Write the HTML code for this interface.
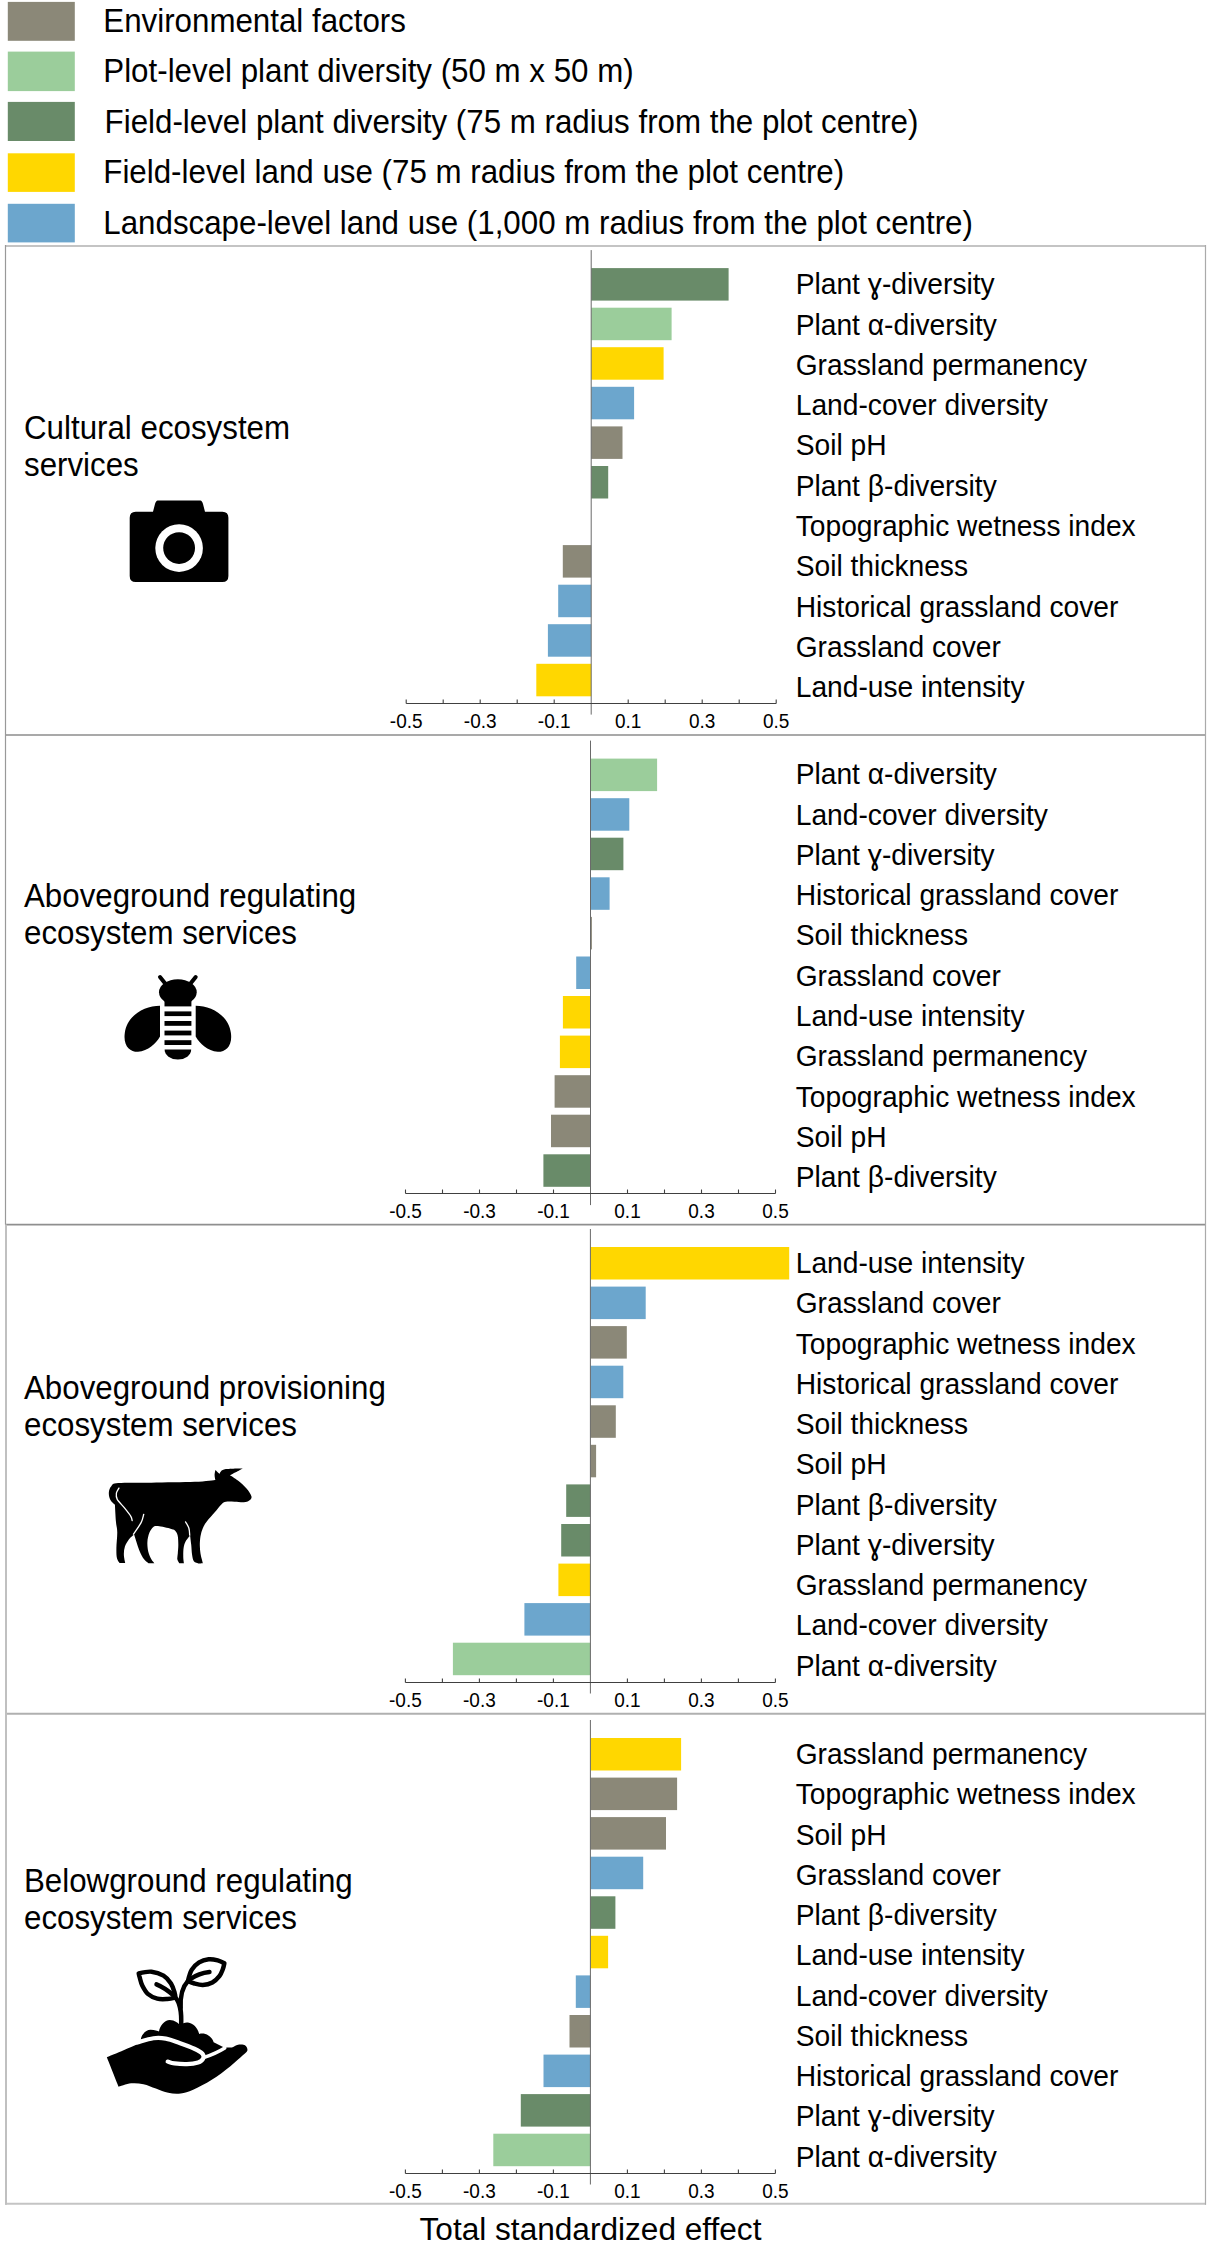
<!DOCTYPE html>
<html><head><meta charset="utf-8"><style>
html,body{margin:0;padding:0;background:#fff;}
svg{display:block;}
text{font-family:"Liberation Sans",sans-serif;fill:#000;}
</style></head><body>
<svg width="1208" height="2244" viewBox="0 0 1208 2244">
<rect x="0" y="0" width="1208" height="2244" fill="#fff"/>
<g>
<rect x="7.8" y="1.9" width="67" height="38.9" fill="#8B8878"/>
<text transform="translate(103.3,31.8) scale(1,1.045)" font-size="31.3">Environmental factors</text>
<rect x="7.8" y="51.6" width="67" height="39.5" fill="#9BCD9B"/>
<text transform="translate(103.3,82.2) scale(1,1.045)" font-size="31.3">Plot-level plant diversity (50 m x 50 m)</text>
<rect x="7.8" y="101.9" width="67" height="39.1" fill="#698B69"/>
<text transform="translate(104.6,132.5) scale(1,1.045)" font-size="31.3">Field-level plant diversity (75 m radius from the plot centre)</text>
<rect x="7.8" y="153.3" width="67" height="38.6" fill="#FFD700"/>
<text transform="translate(103.3,183.0) scale(1,1.045)" font-size="31.3">Field-level land use (75 m radius from the plot centre)</text>
<rect x="7.8" y="203.8" width="67" height="38.6" fill="#6CA6CD"/>
<text transform="translate(103.3,233.8) scale(1,1.045)" font-size="31.3">Landscape-level land use (1,000 m radius from the plot centre)</text>
</g>
<g fill="none">
<line x1="5" y1="246" x2="1206" y2="246" stroke="#c4c4c4" stroke-width="2"/>
<line x1="5" y1="735" x2="1206" y2="735" stroke="#8c8c8c" stroke-width="1.6"/>
<line x1="5" y1="1224.6" x2="1206" y2="1224.6" stroke="#8f8f8f" stroke-width="1.6"/>
<line x1="5" y1="1713.8" x2="1206" y2="1713.8" stroke="#b0b0b0" stroke-width="2"/>
<line x1="5" y1="2203.8" x2="1206" y2="2203.8" stroke="#c4c4c4" stroke-width="2"/>
<line x1="5.5" y1="245" x2="5.5" y2="1224.6" stroke="#999" stroke-width="1.2"/>
<line x1="6" y1="1224.6" x2="6" y2="2204.8" stroke="#c0c0c0" stroke-width="2"/>
<line x1="1205.5" y1="245" x2="1205.5" y2="2204.8" stroke="#aaa" stroke-width="1.2"/>
</g>
<g>
<rect x="591.2" y="268.1" width="137.4" height="32.5" fill="#698B69"/>
<text transform="translate(795.7,294.4) scale(1,1.045)" font-size="28.2">Plant ɣ-diversity</text>
<rect x="591.2" y="307.7" width="80.4" height="32.5" fill="#9BCD9B"/>
<text transform="translate(795.7,334.7) scale(1,1.045)" font-size="28.2">Plant α-diversity</text>
<rect x="591.2" y="347.2" width="72.4" height="32.5" fill="#FFD700"/>
<text transform="translate(795.7,374.9) scale(1,1.045)" font-size="28.2">Grassland permanency</text>
<rect x="591.2" y="386.8" width="42.9" height="32.5" fill="#6CA6CD"/>
<text transform="translate(795.7,415.2) scale(1,1.045)" font-size="28.2">Land-cover diversity</text>
<rect x="591.2" y="426.4" width="31.3" height="32.5" fill="#8B8878"/>
<text transform="translate(795.7,455.4) scale(1,1.045)" font-size="28.2">Soil pH</text>
<rect x="591.2" y="466.0" width="17.0" height="32.5" fill="#698B69"/>
<text transform="translate(795.7,495.7) scale(1,1.045)" font-size="28.2">Plant β-diversity</text>
<text transform="translate(795.7,536.0) scale(1,1.045)" font-size="28.2">Topographic wetness index</text>
<rect x="562.8" y="545.1" width="28.4" height="32.5" fill="#8B8878"/>
<text transform="translate(795.7,576.2) scale(1,1.045)" font-size="28.2">Soil thickness</text>
<rect x="558.2" y="584.7" width="33.0" height="32.5" fill="#6CA6CD"/>
<text transform="translate(795.7,616.5) scale(1,1.045)" font-size="28.2">Historical grassland cover</text>
<rect x="547.9" y="624.2" width="43.3" height="32.5" fill="#6CA6CD"/>
<text transform="translate(795.7,656.7) scale(1,1.045)" font-size="28.2">Grassland cover</text>
<rect x="536.3" y="663.8" width="54.9" height="32.5" fill="#FFD700"/>
<text transform="translate(795.7,697.0) scale(1,1.045)" font-size="28.2">Land-use intensity</text>
<line x1="591.2" y1="250.10000000000002" x2="591.2" y2="714.6" stroke="#6a6a6a" stroke-width="1"/>
<line x1="406.20000000000005" y1="703.5" x2="776.2" y2="703.5" stroke="#404040" stroke-width="1"/>
<line x1="406.20000000000005" y1="699.5" x2="406.20000000000005" y2="703.5" stroke="#404040" stroke-width="1.1"/>
<line x1="443.20000000000005" y1="699.5" x2="443.20000000000005" y2="703.5" stroke="#404040" stroke-width="1.1"/>
<line x1="480.20000000000005" y1="699.5" x2="480.20000000000005" y2="703.5" stroke="#404040" stroke-width="1.1"/>
<line x1="517.2" y1="699.5" x2="517.2" y2="703.5" stroke="#404040" stroke-width="1.1"/>
<line x1="554.2" y1="699.5" x2="554.2" y2="703.5" stroke="#404040" stroke-width="1.1"/>
<line x1="628.2" y1="699.5" x2="628.2" y2="703.5" stroke="#404040" stroke-width="1.1"/>
<line x1="665.2" y1="699.5" x2="665.2" y2="703.5" stroke="#404040" stroke-width="1.1"/>
<line x1="702.2" y1="699.5" x2="702.2" y2="703.5" stroke="#404040" stroke-width="1.1"/>
<line x1="739.2" y1="699.5" x2="739.2" y2="703.5" stroke="#404040" stroke-width="1.1"/>
<line x1="776.2" y1="699.5" x2="776.2" y2="703.5" stroke="#404040" stroke-width="1.1"/>
<text transform="translate(406.2,727.6) scale(1,1.02)" font-size="19" text-anchor="middle">-0.5</text>
<text transform="translate(480.2,727.6) scale(1,1.02)" font-size="19" text-anchor="middle">-0.3</text>
<text transform="translate(554.2,727.6) scale(1,1.02)" font-size="19" text-anchor="middle">-0.1</text>
<text transform="translate(628.2,727.6) scale(1,1.02)" font-size="19" text-anchor="middle">0.1</text>
<text transform="translate(702.2,727.6) scale(1,1.02)" font-size="19" text-anchor="middle">0.3</text>
<text transform="translate(776.2,727.6) scale(1,1.02)" font-size="19" text-anchor="middle">0.5</text>
<text transform="translate(24.0,438.5) scale(1,1.045)" font-size="31.3">Cultural ecosystem</text>
<text transform="translate(24.0,475.8) scale(1,1.045)" font-size="31.3">services</text>
<g fill="#000"><path d="M157.7,500.4 L200.4,500.4 Q202,500.4 203,504 L205,511.8 L222.4,511.8 Q228.4,511.8 228.4,517.8 L228.4,575.9 Q228.4,581.9 222.4,581.9 L135.7,581.9 Q129.7,581.9 129.7,575.9 L129.7,517.8 Q129.7,511.8 135.7,511.8 L153,511.8 L155,504 Q156,500.4 157.7,500.4 Z"/>
<circle cx="179.1" cy="548.1" r="23.8" fill="#fff"/><circle cx="179.1" cy="548.1" r="15.9" fill="#000"/></g>
</g>
<g>
<rect x="590.5" y="758.6" width="66.6" height="32.5" fill="#9BCD9B"/>
<text transform="translate(795.7,784.4) scale(1,1.045)" font-size="28.2">Plant α-diversity</text>
<rect x="590.5" y="798.2" width="38.8" height="32.5" fill="#6CA6CD"/>
<text transform="translate(795.7,824.7) scale(1,1.045)" font-size="28.2">Land-cover diversity</text>
<rect x="590.5" y="837.7" width="32.9" height="32.5" fill="#698B69"/>
<text transform="translate(795.7,864.9) scale(1,1.045)" font-size="28.2">Plant ɣ-diversity</text>
<rect x="590.5" y="877.3" width="19.1" height="32.5" fill="#6CA6CD"/>
<text transform="translate(795.7,905.2) scale(1,1.045)" font-size="28.2">Historical grassland cover</text>
<rect x="590.5" y="916.9" width="1.4" height="32.5" fill="#8B8878"/>
<text transform="translate(795.7,945.4) scale(1,1.045)" font-size="28.2">Soil thickness</text>
<rect x="576.2" y="956.5" width="14.3" height="32.5" fill="#6CA6CD"/>
<text transform="translate(795.7,985.7) scale(1,1.045)" font-size="28.2">Grassland cover</text>
<rect x="562.9" y="996.0" width="27.6" height="32.5" fill="#FFD700"/>
<text transform="translate(795.7,1026.0) scale(1,1.045)" font-size="28.2">Land-use intensity</text>
<rect x="559.9" y="1035.6" width="30.6" height="32.5" fill="#FFD700"/>
<text transform="translate(795.7,1066.2) scale(1,1.045)" font-size="28.2">Grassland permanency</text>
<rect x="554.6" y="1075.2" width="35.9" height="32.5" fill="#8B8878"/>
<text transform="translate(795.7,1106.5) scale(1,1.045)" font-size="28.2">Topographic wetness index</text>
<rect x="551.0" y="1114.7" width="39.5" height="32.5" fill="#8B8878"/>
<text transform="translate(795.7,1146.7) scale(1,1.045)" font-size="28.2">Soil pH</text>
<rect x="543.4" y="1154.3" width="47.1" height="32.5" fill="#698B69"/>
<text transform="translate(795.7,1187.0) scale(1,1.045)" font-size="28.2">Plant β-diversity</text>
<line x1="590.5" y1="740.6" x2="590.5" y2="1205.1" stroke="#6a6a6a" stroke-width="1"/>
<line x1="405.5" y1="1193.5" x2="775.5" y2="1193.5" stroke="#404040" stroke-width="1"/>
<line x1="405.5" y1="1189.5" x2="405.5" y2="1193.5" stroke="#404040" stroke-width="1.1"/>
<line x1="442.5" y1="1189.5" x2="442.5" y2="1193.5" stroke="#404040" stroke-width="1.1"/>
<line x1="479.5" y1="1189.5" x2="479.5" y2="1193.5" stroke="#404040" stroke-width="1.1"/>
<line x1="516.5" y1="1189.5" x2="516.5" y2="1193.5" stroke="#404040" stroke-width="1.1"/>
<line x1="553.5" y1="1189.5" x2="553.5" y2="1193.5" stroke="#404040" stroke-width="1.1"/>
<line x1="627.5" y1="1189.5" x2="627.5" y2="1193.5" stroke="#404040" stroke-width="1.1"/>
<line x1="664.5" y1="1189.5" x2="664.5" y2="1193.5" stroke="#404040" stroke-width="1.1"/>
<line x1="701.5" y1="1189.5" x2="701.5" y2="1193.5" stroke="#404040" stroke-width="1.1"/>
<line x1="738.5" y1="1189.5" x2="738.5" y2="1193.5" stroke="#404040" stroke-width="1.1"/>
<line x1="775.5" y1="1189.5" x2="775.5" y2="1193.5" stroke="#404040" stroke-width="1.1"/>
<text transform="translate(405.5,1218.1) scale(1,1.02)" font-size="19" text-anchor="middle">-0.5</text>
<text transform="translate(479.5,1218.1) scale(1,1.02)" font-size="19" text-anchor="middle">-0.3</text>
<text transform="translate(553.5,1218.1) scale(1,1.02)" font-size="19" text-anchor="middle">-0.1</text>
<text transform="translate(627.5,1218.1) scale(1,1.02)" font-size="19" text-anchor="middle">0.1</text>
<text transform="translate(701.5,1218.1) scale(1,1.02)" font-size="19" text-anchor="middle">0.3</text>
<text transform="translate(775.5,1218.1) scale(1,1.02)" font-size="19" text-anchor="middle">0.5</text>
<text transform="translate(24.0,906.9) scale(1,1.045)" font-size="31.3">Aboveground regulating</text>
<text transform="translate(24.0,944.0) scale(1,1.045)" font-size="31.3">ecosystem services</text>
<g fill="#000">
<line x1="160" y1="977" x2="165.2" y2="983.6" stroke="#000" stroke-width="4" stroke-linecap="round"/>
<line x1="195.7" y1="977" x2="190.5" y2="983.6" stroke="#000" stroke-width="4" stroke-linecap="round"/>
<ellipse cx="177.85" cy="992.3" rx="18.85" ry="13"/>
<rect x="164.5" y="995" width="26.9" height="11.4"/>
<rect x="164.5" y="1011.4" width="26.9" height="4.7"/>
<rect x="164.5" y="1021" width="26.9" height="4.8"/>
<rect x="164.5" y="1030.6" width="26.9" height="4.8"/>
<rect x="164.5" y="1040.2" width="26.9" height="4.8"/>
<path d="M164.6,1049.6 H191.2 A13.3,10 0 0 1 164.6,1049.6 Z"/>
<path d="M160,1005.7 C145,1005.7 127,1015 124.8,1033 C123,1046 130,1052 138,1051.8 C148,1051 156,1043.5 160,1036.5 Z"/>
<path d="M195.7,1005.7 C210.7,1005.7 228.7,1015 230.9,1033 C232.7,1046 225.7,1052 217.7,1051.8 C207.7,1051 199.7,1043.5 195.7,1036.5 Z"/>
</g>
</g>
<g>
<rect x="590.4" y="1247.0" width="198.8" height="32.5" fill="#FFD700"/>
<text transform="translate(795.7,1273.1) scale(1,1.045)" font-size="28.2">Land-use intensity</text>
<rect x="590.4" y="1286.6" width="55.3" height="32.5" fill="#6CA6CD"/>
<text transform="translate(795.7,1313.4) scale(1,1.045)" font-size="28.2">Grassland cover</text>
<rect x="590.4" y="1326.1" width="36.4" height="32.5" fill="#8B8878"/>
<text transform="translate(795.7,1353.6) scale(1,1.045)" font-size="28.2">Topographic wetness index</text>
<rect x="590.4" y="1365.7" width="32.9" height="32.5" fill="#6CA6CD"/>
<text transform="translate(795.7,1393.9) scale(1,1.045)" font-size="28.2">Historical grassland cover</text>
<rect x="590.4" y="1405.3" width="25.4" height="32.5" fill="#8B8878"/>
<text transform="translate(795.7,1434.1) scale(1,1.045)" font-size="28.2">Soil thickness</text>
<rect x="590.4" y="1444.8" width="5.7" height="32.5" fill="#8B8878"/>
<text transform="translate(795.7,1474.4) scale(1,1.045)" font-size="28.2">Soil pH</text>
<rect x="566.2" y="1484.4" width="24.2" height="32.5" fill="#698B69"/>
<text transform="translate(795.7,1514.7) scale(1,1.045)" font-size="28.2">Plant β-diversity</text>
<rect x="561.2" y="1524.0" width="29.2" height="32.5" fill="#698B69"/>
<text transform="translate(795.7,1554.9) scale(1,1.045)" font-size="28.2">Plant ɣ-diversity</text>
<rect x="558.4" y="1563.6" width="32.0" height="32.5" fill="#FFD700"/>
<text transform="translate(795.7,1595.2) scale(1,1.045)" font-size="28.2">Grassland permanency</text>
<rect x="524.4" y="1603.1" width="66.0" height="32.5" fill="#6CA6CD"/>
<text transform="translate(795.7,1635.4) scale(1,1.045)" font-size="28.2">Land-cover diversity</text>
<rect x="452.9" y="1642.7" width="137.5" height="32.5" fill="#9BCD9B"/>
<text transform="translate(795.7,1675.7) scale(1,1.045)" font-size="28.2">Plant α-diversity</text>
<line x1="590.4" y1="1229.0" x2="590.4" y2="1693.5" stroke="#6a6a6a" stroke-width="1"/>
<line x1="405.4" y1="1682.5" x2="775.4" y2="1682.5" stroke="#404040" stroke-width="1"/>
<line x1="405.4" y1="1678.5" x2="405.4" y2="1682.5" stroke="#404040" stroke-width="1.1"/>
<line x1="442.4" y1="1678.5" x2="442.4" y2="1682.5" stroke="#404040" stroke-width="1.1"/>
<line x1="479.4" y1="1678.5" x2="479.4" y2="1682.5" stroke="#404040" stroke-width="1.1"/>
<line x1="516.4" y1="1678.5" x2="516.4" y2="1682.5" stroke="#404040" stroke-width="1.1"/>
<line x1="553.4" y1="1678.5" x2="553.4" y2="1682.5" stroke="#404040" stroke-width="1.1"/>
<line x1="627.4" y1="1678.5" x2="627.4" y2="1682.5" stroke="#404040" stroke-width="1.1"/>
<line x1="664.4" y1="1678.5" x2="664.4" y2="1682.5" stroke="#404040" stroke-width="1.1"/>
<line x1="701.4" y1="1678.5" x2="701.4" y2="1682.5" stroke="#404040" stroke-width="1.1"/>
<line x1="738.4" y1="1678.5" x2="738.4" y2="1682.5" stroke="#404040" stroke-width="1.1"/>
<line x1="775.4" y1="1678.5" x2="775.4" y2="1682.5" stroke="#404040" stroke-width="1.1"/>
<text transform="translate(405.4,1706.5) scale(1,1.02)" font-size="19" text-anchor="middle">-0.5</text>
<text transform="translate(479.4,1706.5) scale(1,1.02)" font-size="19" text-anchor="middle">-0.3</text>
<text transform="translate(553.4,1706.5) scale(1,1.02)" font-size="19" text-anchor="middle">-0.1</text>
<text transform="translate(627.4,1706.5) scale(1,1.02)" font-size="19" text-anchor="middle">0.1</text>
<text transform="translate(701.4,1706.5) scale(1,1.02)" font-size="19" text-anchor="middle">0.3</text>
<text transform="translate(775.4,1706.5) scale(1,1.02)" font-size="19" text-anchor="middle">0.5</text>
<text transform="translate(24.0,1398.5) scale(1,1.045)" font-size="31.3">Aboveground provisioning</text>
<text transform="translate(24.0,1435.5) scale(1,1.045)" font-size="31.3">ecosystem services</text>
<g transform="translate(105,1462) scale(0.066225)">
<path d="M200.0,318.0 C300.8,309.2 507.2,315.0 700.0,312.0 C892.8,309.0 1195.8,306.7 1357.0,300.0 C1518.2,293.3 1667.0,272.0 1667.0,272.0 C1667.0,272.0 1655.0,225.0 1655.0,200.0 C1655.0,175.0 1667.0,122.0 1667.0,122.0 C1667.0,122.0 1729.0,182.0 1729.0,182.0 C1729.0,182.0 1738.2,126.0 1797.0,112.0 C1855.8,98.0 2082.0,98.0 2082.0,98.0 C2082.0,98.0 1887.0,200.0 1887.0,200.0 C1887.0,200.0 1965.3,246.7 2007.0,280.0 C2048.7,313.3 2102.8,360.0 2137.0,400.0 C2171.2,440.0 2205.3,490.0 2212.0,520.0 C2218.7,550.0 2196.2,565.3 2177.0,580.0 C2157.8,594.7 2133.7,604.7 2097.0,608.0 C2060.3,611.3 2002.0,601.3 1957.0,600.0 C1912.0,598.7 1860.3,593.3 1827.0,600.0 C1793.7,606.7 1785.3,613.3 1757.0,640.0 C1728.7,666.7 1693.7,716.7 1657.0,760.0 C1620.3,803.3 1567.0,860.0 1537.0,900.0 C1507.0,940.0 1492.8,963.3 1477.0,1000.0 C1461.2,1036.7 1449.5,1076.7 1442.0,1120.0 C1434.5,1163.3 1432.0,1216.7 1432.0,1260.0 C1432.0,1303.3 1437.0,1345.0 1442.0,1380.0 C1447.0,1415.0 1456.2,1445.3 1462.0,1470.0 C1467.8,1494.7 1477.0,1528.0 1477.0,1528.0 C1477.0,1528.0 1407.0,1532.0 1407.0,1532.0 C1407.0,1532.0 1357.3,1522.0 1342.0,1500.0 C1326.7,1478.0 1321.7,1441.7 1315.0,1400.0 C1308.3,1358.3 1307.0,1298.3 1302.0,1250.0 C1297.0,1201.7 1285.0,1110.0 1285.0,1110.0 C1285.0,1110.0 1233.3,1168.3 1217.0,1200.0 C1200.7,1231.7 1192.8,1260.0 1187.0,1300.0 C1181.2,1340.0 1181.2,1402.0 1182.0,1440.0 C1182.8,1478.0 1192.0,1528.0 1192.0,1528.0 C1192.0,1528.0 1122.0,1528.0 1122.0,1528.0 C1122.0,1528.0 1095.8,1494.7 1092.0,1470.0 C1088.2,1445.3 1096.5,1416.7 1099.0,1380.0 C1101.5,1343.3 1107.3,1295.0 1107.0,1250.0 C1106.7,1205.0 1105.3,1145.8 1097.0,1110.0 C1088.7,1074.2 1073.2,1051.7 1057.0,1035.0 C1040.8,1018.3 1042.8,1021.2 1000.0,1010.0 C957.2,998.8 845.0,973.0 800.0,968.0 C755.0,963.0 751.7,963.0 730.0,980.0 C708.3,997.0 685.0,1031.7 670.0,1070.0 C655.0,1108.3 642.5,1161.7 640.0,1210.0 C637.5,1258.3 645.0,1316.7 655.0,1360.0 C665.0,1403.3 685.0,1442.0 700.0,1470.0 C715.0,1498.0 745.0,1528.0 745.0,1528.0 C745.0,1528.0 660.0,1530.0 660.0,1530.0 C660.0,1530.0 613.3,1501.7 590.0,1470.0 C566.7,1438.3 545.0,1402.5 520.0,1340.0 C495.0,1277.5 440.0,1095.0 440.0,1095.0 C440.0,1095.0 383.3,1139.2 360.0,1170.0 C336.7,1200.8 312.5,1241.7 300.0,1280.0 C287.5,1318.3 284.2,1359.2 285.0,1400.0 C285.8,1440.8 305.0,1525.0 305.0,1525.0 C305.0,1525.0 220.0,1525.0 220.0,1525.0 C220.0,1525.0 188.0,1487.5 180.0,1450.0 C172.0,1412.5 171.2,1365.0 172.0,1300.0 C172.8,1235.0 186.2,1126.7 185.0,1060.0 C183.8,993.3 170.8,969.2 165.0,900.0 C159.2,830.8 150.0,645.0 150.0,645.0 C150.0,645.0 95.3,600.8 80.0,570.0 C64.7,539.2 55.5,494.2 58.0,460.0 C60.5,425.8 71.3,388.7 95.0,365.0 C118.7,341.3 99.2,326.8 200.0,318.0 Z" fill="#000"/>
<g fill="none" stroke="#fff" stroke-width="20" stroke-linecap="round">
<path d="M210.0,395.0 C203.7,407.5 176.2,441.7 172.0,470.0 C167.8,498.3 163.7,526.7 185.0,565.0 C206.3,603.3 265.8,657.5 300.0,700.0 C334.2,742.5 371.7,789.2 390.0,820.0 C408.3,850.8 406.7,874.2 410.0,885.0"/>
<path d="M585.0,790.0 C578.3,810.8 570.8,865.0 545.0,915.0 C519.2,965.0 449.2,1060.8 430.0,1090.0"/>
<path d="M1217.0,905.0 C1225.3,920.8 1256.7,966.7 1267.0,1000.0 C1277.3,1033.3 1277.0,1087.5 1279.0,1105.0"/>
</g></g>
</g>
<g>
<rect x="590.4" y="1738.0" width="90.7" height="32.5" fill="#FFD700"/>
<text transform="translate(795.7,1764.0) scale(1,1.045)" font-size="28.2">Grassland permanency</text>
<rect x="590.4" y="1777.6" width="86.7" height="32.5" fill="#8B8878"/>
<text transform="translate(795.7,1804.3) scale(1,1.045)" font-size="28.2">Topographic wetness index</text>
<rect x="590.4" y="1817.1" width="75.6" height="32.5" fill="#8B8878"/>
<text transform="translate(795.7,1844.5) scale(1,1.045)" font-size="28.2">Soil pH</text>
<rect x="590.4" y="1856.7" width="52.8" height="32.5" fill="#6CA6CD"/>
<text transform="translate(795.7,1884.8) scale(1,1.045)" font-size="28.2">Grassland cover</text>
<rect x="590.4" y="1896.3" width="25.0" height="32.5" fill="#698B69"/>
<text transform="translate(795.7,1925.0) scale(1,1.045)" font-size="28.2">Plant β-diversity</text>
<rect x="590.4" y="1935.8" width="17.7" height="32.5" fill="#FFD700"/>
<text transform="translate(795.7,1965.3) scale(1,1.045)" font-size="28.2">Land-use intensity</text>
<rect x="575.8" y="1975.4" width="14.6" height="32.5" fill="#6CA6CD"/>
<text transform="translate(795.7,2005.6) scale(1,1.045)" font-size="28.2">Land-cover diversity</text>
<rect x="569.5" y="2015.0" width="20.9" height="32.5" fill="#8B8878"/>
<text transform="translate(795.7,2045.8) scale(1,1.045)" font-size="28.2">Soil thickness</text>
<rect x="543.5" y="2054.6" width="46.9" height="32.5" fill="#6CA6CD"/>
<text transform="translate(795.7,2086.1) scale(1,1.045)" font-size="28.2">Historical grassland cover</text>
<rect x="520.8" y="2094.1" width="69.6" height="32.5" fill="#698B69"/>
<text transform="translate(795.7,2126.3) scale(1,1.045)" font-size="28.2">Plant ɣ-diversity</text>
<rect x="493.3" y="2133.7" width="97.1" height="32.5" fill="#9BCD9B"/>
<text transform="translate(795.7,2166.6) scale(1,1.045)" font-size="28.2">Plant α-diversity</text>
<line x1="590.4" y1="1720.0" x2="590.4" y2="2184.5" stroke="#6a6a6a" stroke-width="1"/>
<line x1="405.4" y1="2173.5" x2="775.4" y2="2173.5" stroke="#404040" stroke-width="1"/>
<line x1="405.4" y1="2169.5" x2="405.4" y2="2173.5" stroke="#404040" stroke-width="1.1"/>
<line x1="442.4" y1="2169.5" x2="442.4" y2="2173.5" stroke="#404040" stroke-width="1.1"/>
<line x1="479.4" y1="2169.5" x2="479.4" y2="2173.5" stroke="#404040" stroke-width="1.1"/>
<line x1="516.4" y1="2169.5" x2="516.4" y2="2173.5" stroke="#404040" stroke-width="1.1"/>
<line x1="553.4" y1="2169.5" x2="553.4" y2="2173.5" stroke="#404040" stroke-width="1.1"/>
<line x1="627.4" y1="2169.5" x2="627.4" y2="2173.5" stroke="#404040" stroke-width="1.1"/>
<line x1="664.4" y1="2169.5" x2="664.4" y2="2173.5" stroke="#404040" stroke-width="1.1"/>
<line x1="701.4" y1="2169.5" x2="701.4" y2="2173.5" stroke="#404040" stroke-width="1.1"/>
<line x1="738.4" y1="2169.5" x2="738.4" y2="2173.5" stroke="#404040" stroke-width="1.1"/>
<line x1="775.4" y1="2169.5" x2="775.4" y2="2173.5" stroke="#404040" stroke-width="1.1"/>
<text transform="translate(405.4,2197.5) scale(1,1.02)" font-size="19" text-anchor="middle">-0.5</text>
<text transform="translate(479.4,2197.5) scale(1,1.02)" font-size="19" text-anchor="middle">-0.3</text>
<text transform="translate(553.4,2197.5) scale(1,1.02)" font-size="19" text-anchor="middle">-0.1</text>
<text transform="translate(627.4,2197.5) scale(1,1.02)" font-size="19" text-anchor="middle">0.1</text>
<text transform="translate(701.4,2197.5) scale(1,1.02)" font-size="19" text-anchor="middle">0.3</text>
<text transform="translate(775.4,2197.5) scale(1,1.02)" font-size="19" text-anchor="middle">0.5</text>
<text transform="translate(24.0,1891.7) scale(1,1.045)" font-size="31.3">Belowground regulating</text>
<text transform="translate(24.0,1929.0) scale(1,1.045)" font-size="31.3">ecosystem services</text>
<g transform="translate(130,1950) scale(0.08278)" fill="none" stroke="#000" stroke-width="54" stroke-linecap="round" stroke-linejoin="round">
<path d="M105.0,282.0 C105.0,282.0 210.0,257.3 260.0,262.0 C310.0,266.7 365.8,286.2 405.0,310.0 C444.2,333.8 472.5,370.0 495.0,405.0 C517.5,440.0 531.2,491.7 540.0,520.0 C548.8,548.3 548.0,575.0 548.0,575.0 C548.0,575.0 486.3,589.8 450.0,592.0 C413.7,594.2 369.2,598.3 330.0,588.0 C290.8,577.7 245.3,556.3 215.0,530.0 C184.7,503.7 164.2,462.5 148.0,430.0 C131.8,397.5 125.2,359.7 118.0,335.0 C110.8,310.3 105.0,282.0 105.0,282.0 Z"/><path d="M700.0,375.0 C700.0,375.0 722.5,277.5 745.0,240.0 C767.5,202.5 800.8,171.3 835.0,150.0 C869.2,128.7 912.5,116.2 950.0,112.0 C987.5,107.8 1028.3,117.0 1060.0,125.0 C1091.7,133.0 1140.0,160.0 1140.0,160.0 C1140.0,160.0 1130.0,209.2 1120.0,235.0 C1110.0,260.8 1100.8,288.8 1080.0,315.0 C1059.2,341.2 1028.3,374.2 995.0,392.0 C961.7,409.8 917.5,420.3 880.0,422.0 C842.5,423.7 800.0,409.8 770.0,402.0 C740.0,394.2 700.0,375.0 700.0,375.0 Z"/>
<path d="M320,415 C380,440 450,480 520,545"/>
<path d="M960,265 C900,272 800,300 740,345"/>
<path d="M618,900 C622,780 620,650 545,570"/>
<path d="M612,700 C605,560 630,450 700,375"/>
</g>
<g transform="translate(100,2015) scale(0.12418)">
<path d="M55.0,340.0 C55.0,340.0 149.2,301.3 190.0,284.0 C230.8,266.7 276.7,248.0 300.0,236.0 C323.3,224.0 330.0,212.0 330.0,212.0 C330.0,212.0 600.0,200.0 600.0,200.0 C600.0,200.0 995.0,262.0 995.0,262.0 C995.0,262.0 1065.0,262.0 1065.0,262.0 C1065.0,262.0 1102.5,240.8 1120.0,238.0 C1137.5,235.2 1158.8,237.2 1170.0,245.0 C1181.2,252.8 1190.3,271.7 1187.0,285.0 C1183.7,298.3 1172.8,303.8 1150.0,325.0 C1127.2,346.2 1091.7,379.2 1050.0,412.0 C1008.3,444.8 950.0,490.3 900.0,522.0 C850.0,553.7 791.7,583.7 750.0,602.0 C708.3,620.3 683.3,627.8 650.0,632.0 C616.7,636.2 583.3,633.7 550.0,627.0 C516.7,620.3 483.3,603.7 450.0,592.0 C416.7,580.3 383.3,564.0 350.0,557.0 C316.7,550.0 283.3,546.5 250.0,550.0 C216.7,553.5 150.0,578.0 150.0,578.0 C150.0,578.0 55.0,340.0 55.0,340.0 Z" fill="#000"/>
<path d="M328.6,199.7 C330,160 370,118 408.6,119.7 C440,121 465,128 475.2,133 C480,90 520,40 561.9,39.7 C600,40 635,65 645.2,86.4 C660,65 690,58 708.5,61 C750,68 785,100 798.5,153 C810,148 830,148 835.2,149.7 C870,155 905,185 915.2,219.7 L995.2,259.7 L840,340 L330,230 Z" fill="#000"/>
<g fill="none" stroke="#fff" stroke-linecap="round" stroke-linejoin="round">
<path stroke-width="34" d="M300.0,222.0 C321.7,216.2 391.7,192.3 430.0,187.0 C468.3,181.7 495.0,183.7 530.0,190.0 C565.0,196.3 601.7,211.3 640.0,225.0 C678.3,238.7 729.2,257.5 760.0,272.0 C790.8,286.5 813.3,298.7 825.0,312.0 C836.7,325.3 835.8,340.3 830.0,352.0 C824.2,363.7 811.7,374.7 790.0,382.0 C768.3,389.3 731.7,394.7 700.0,396.0 C668.3,397.3 625.8,393.5 600.0,390.0 C574.2,386.5 554.2,377.5 545.0,375.0"/>
<path stroke-width="28" d="M840,342 C880,328 950,300 1005,266"/>
</g></g>
</g>
<text transform="translate(590.5,2239.5) scale(1,1.02)" font-size="31.6" text-anchor="middle">Total standardized effect</text>
</svg></body></html>
